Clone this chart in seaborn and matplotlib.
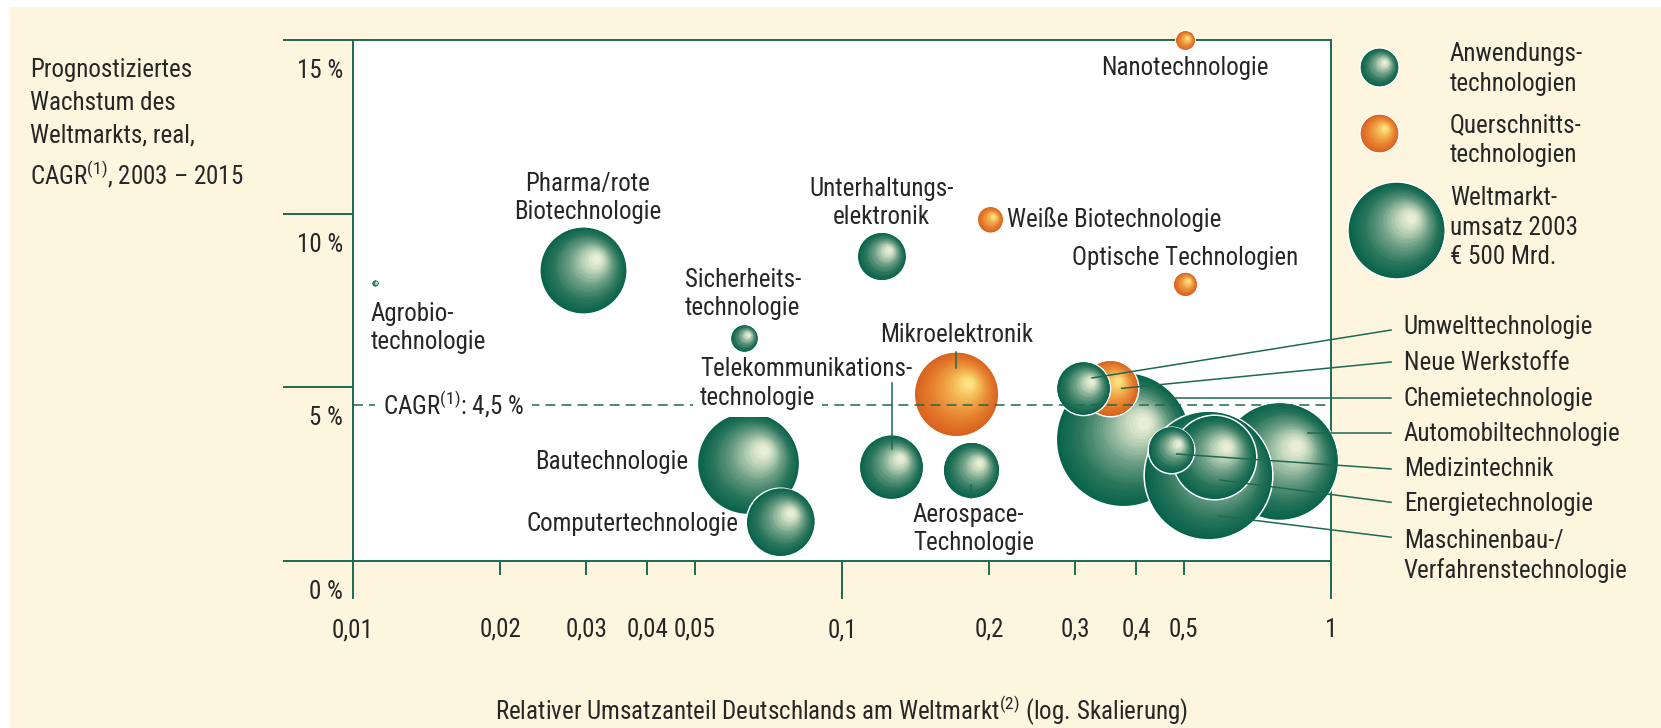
import numpy as np
import matplotlib
matplotlib.use("Agg")
import matplotlib.pyplot as plt
import matplotlib.transforms as mtransforms
from matplotlib import font_manager as fm
from matplotlib.colors import LinearSegmentedColormap
from matplotlib.patches import Rectangle
import seaborn as sns

# Data (drawing order: back to front)
techs = ["Chemietechnologie", "Neue Werkstoffe", "Umwelttechnologie", "Automobiltechnologie",
         "Maschinenbau-/Verfahrenstechnologie", "Energietechnologie", "Medizintechnik",
         "Bautechnologie", "Computertechnologie", "Telekommunikationstechnologie",
         "Aerospace-Technologie", "Mikroelektronik", "Sicherheitstechnologie",
         "Pharma/rote Biotechnologie", "Agrobiotechnologie", "Unterhaltungselektronik",
         "Weiße Biotechnologie", "Optische Technologien", "Nanotechnologie"]
share = [0.3755, 0.353, 0.311, 0.783, 0.560, 0.576, 0.471, 0.0642, 0.0748, 0.1258,
         0.1836, 0.171, 0.063, 0.0295, 0.0111, 0.1204, 0.2004, 0.502, 0.502]
growth = [3.50, 4.98, 4.98, 2.88, 2.48, 2.99, 3.21, 2.82, 1.13, 2.72,
          2.62, 4.82, 6.42, 8.38, 8.0, 8.78, 9.83, 7.98, 14.99]
market = [960, 170, 155, 740, 880, 380, 115, 555, 250, 220,
          170, 380, 40, 405, 2, 125, 35, 30, 20]   # Weltmarktumsatz 2003, Mrd. EUR (geschaetzt)
kind = ["A", "Q", "A", "A", "A", "A", "A", "A", "A", "A",
        "A", "Q", "A", "A", "A", "A", "Q", "Q", "Q"]

cagr_avg = 4.5
y_ticks = [0, 5, 10, 15]
y_ticklabels = ["0 %", "5 %", "10 %", "15 %"]
x_major = [0.01, 0.1, 1]
x_major_labels = ["0,01", "0,1", "1"]
x_minor = [0.02, 0.03, 0.04, 0.05, 0.2, 0.3, 0.4, 0.5]
x_minor_labels = ["0,02", "0,03", "0,04", "0,05", "0,2", "0,3", "0,4", "0,5"]

legend_kind = ["A", "Q", "A"]
legend_market = [80, 80, 500]
legend_labels = ["Anwendungs-\ntechnologien", "Querschnitts-\ntechnologien",
                 "Weltmarkt-\numsatz 2003\n€ 500 Mrd."]

# fonts: prefer a narrow family
avail = {f.name for f in fm.fontManager.ttflist}
FONT, FS = "DejaVu Sans", 16
for cand, size in [("Liberation Sans Narrow", 19), ("Roboto Condensed", 18),
                   ("Open Sans Condensed", 17), ("Arial Narrow", 19)]:
    if cand in avail:
        FONT, FS = cand, size
        break
plt.rcParams["font.family"] = [FONT, "DejaVu Sans"]
if FONT == "DejaVu Sans":
    plt.rcParams["font.stretch"] = "condensed"
plt.rcParams["mathtext.fontset"] = "custom"
plt.rcParams["mathtext.rm"] = FONT
plt.rcParams["mathtext.default"] = "regular"

TXT = "#262626"
GREEN = "#1d6a50"
CREAM = "#fdf5dd"
LS = 1.22
cmaps = {
    "A": LinearSegmentedColormap.from_list(
        "g", [(0, "#07634a"), (0.25, "#2a765c"), (0.55, "#6c9f86"),
              (0.82, "#bcd3b8"), (1, "#f3f4dc")]),
    "Q": LinearSegmentedColormap.from_list(
        "o", [(0, "#d9621f"), (0.25, "#e3782b"), (0.55, "#ef9b40"),
              (0.82, "#f6c45e"), (1, "#fce98f")]),
}
S500 = (2 * 48.5 * 0.72) ** 2  # marker area (pt^2) for 500 Mrd.

fig = plt.figure(figsize=(16.61, 7.28), dpi=100)
fig.patch.set_facecolor("white")
fig.patches.append(Rectangle((10 / 1661, 0), 1, 1 - 7 / 728, transform=fig.transFigure,
                             facecolor=CREAM, edgecolor="none", zorder=-10))
ax = fig.add_axes([353 / 1661, 1 - 561 / 728, 978 / 1661, 521 / 728])
ax.set_facecolor("white")
ax.set_xscale("log")


def bubble(x, y, value, k):
    s = S500 * value / 500
    sns.scatterplot(x=[x], y=[y], size=[value], sizes=(0, S500 * 2), size_norm=(0, 1000),
                    color=cmaps[k](0.0), edgecolor="white", linewidth=1.1, legend=False,
                    ax=ax, zorder=3, clip_on=False)
    r = np.sqrt(s) / 2
    n = 28
    for i in range(1, n):
        t = i / n
        off = 0.4 * r * t
        rad = (r - off) * (1 - t) ** 0.55
        tr = ax.transData + mtransforms.ScaledTranslation(off * 0.76 / 72, off * 0.65 / 72,
                                                           fig.dpi_scale_trans)
        ax.scatter([x], [y], s=(2 * rad) ** 2, color=cmaps[k](t), linewidth=0,
                   transform=tr, zorder=3, clip_on=False)


for x, y, v, k in zip(share, growth, market, kind):
    bubble(x, y, v, k)

# legend bubbles
leg_pos = [(1.252, 14.22), (1.252, 12.32), (1.36, 9.53)]
for (lx, ly), v, k in zip(leg_pos, legend_market, legend_kind):
    bubble(lx, ly, v, k)
for txt, ytop in zip(legend_labels, [42, 113, 186]):
    fig.text(1450 / 1661, 1 - ytop / 728, txt, fontsize=FS, color=TXT, va="top", ha="left",
             linespacing=1.3)

# axes styling
ax.set_xlim(0.01, 1)
ax.set_ylim(0, 15)
for sp in ax.spines.values():
    sp.set_color(GREEN)
    sp.set_linewidth(1.4)
ax.set_xticks(x_major, x_major_labels)
ax.set_xticks(x_minor, x_minor_labels, minor=True)
ax.tick_params(axis="x", which="major", length=27.4, width=1.4, color=GREEN, pad=13.7,
               labelsize=FS, labelcolor=TXT)
ax.tick_params(axis="x", which="minor", length=10, width=1.4, color=GREEN, pad=31,
               labelsize=FS, labelcolor=TXT)
ax.set_yticks(y_ticks)
ax.tick_params(axis="y", length=50.4, width=1.4, color=GREEN, labelleft=False)
ytr = mtransforms.blended_transform_factory(ax.transAxes, ax.transData) + \
    mtransforms.ScaledTranslation(0, -0.31, fig.dpi_scale_trans)
for yv, lab in zip(y_ticks, y_ticklabels):
    ax.text(-0.0102, yv, lab, transform=ytr, ha="right", va="center", fontsize=FS, color=TXT)

ax.set_xlabel("Relativer Umsatzanteil Deutschlands am Weltmarkt$^{(2)}$ (log. Skalierung)",
              fontsize=FS, color=TXT)
ax.xaxis.set_label_coords(0.5, -0.255)
ax.set_ylabel("")
fig.text(30 / 1661, 1 - 58 / 728,
         "Prognostiziertes\nWachstum des\nWeltmarkts, real,\nCAGR$^{(1)}$, 2003 – 2015",
         fontsize=FS, color=TXT, va="top", ha="left", linespacing=1.45)

# average line
ax.plot([0.01, 1], [cagr_avg, cagr_avg], color=GREEN, lw=1.1, dashes=(6.5, 4), zorder=5)
white = dict(facecolor="white", edgecolor="none", pad=6)
ax.text(0.01152, cagr_avg, "CAGR$^{(1)}$: 4,5 %", fontsize=FS, color=TXT, ha="left",
        va="center", bbox=white, zorder=6)

# labels inside the plot
inner = [
    ("Agrobio-\ntechnologie", 0.01088, 6.70, "left"),
    ("Pharma/rote\nBiotechnologie", 0.03024, 10.45, "center"),
    ("Sicherheits-\ntechnologie", 0.0627, 7.69, "center"),
    ("Unterhaltungs-\nelektronik", 0.1204, 10.31, "center"),
    ("Weiße Biotechnologie", 0.2178, 9.82, "left"),
    ("Optische Technologien", 0.502, 8.72, "center"),
    ("Nanotechnologie", 0.502, 14.18, "center"),
    ("Mikroelektronik", 0.1714, 6.52, "center"),
    ("Telekommunikations-", 0.05124, 5.54, "left"),
    ("Bautechnologie", 0.04849, 2.86, "right"),
    ("Computertechnologie", 0.0614, 1.07, "right"),
    ("Aerospace-\nTechnologie", 0.1397, 0.93, "left"),
]
for txt, x, y, ha in inner:
    ax.text(x, y, txt, fontsize=FS, color=TXT, ha=ha, va="center", linespacing=LS, zorder=6)
ax.text(0.05124, 4.68, "technologie", fontsize=FS, color=TXT, ha="left", va="center",
        bbox=dict(facecolor="white", edgecolor="none", pad=5), zorder=6)

# short leader lines
for x, y0, y1 in [(0.1714, 6.02, 5.56), (0.1263, 5.13, 3.22), (0.1836, 2.19, 1.80)]:
    ax.plot([x, x], [y0, y1], color=GREEN, lw=1.1, zorder=7)

# labels on the right with leader lines
right = [
    ("Umwelttechnologie", 6.74, (0.3245, 5.27), 6.65),
    ("Neue Werkstoffe", 5.70, (0.3733, 4.97), 5.73),
    ("Chemietechnologie", 4.66, (0.4687, 4.70), 4.70),
    ("Automobiltechnologie", 3.66, (0.8974, 3.69), 3.69),
    ("Medizintechnik", 2.65, (0.4835, 3.08), 2.65),
    ("Energietechnologie", 1.64, (0.593, 2.33), 1.69),
    ("Maschinenbau-/\nVerfahrenstechnologie", 0.14, (0.588, 1.30), 0.685),
]
for txt, ty, (px, py), ey in right:
    ax.plot([px, 1.327], [py, ey], color=GREEN, lw=1.1, zorder=7, clip_on=False)
    ax.text(1.409, ty, txt, fontsize=FS, color=TXT, ha="left", va="center",
            linespacing=LS, zorder=7)

fig.savefig("out.png", dpi=100, facecolor=fig.get_facecolor())
